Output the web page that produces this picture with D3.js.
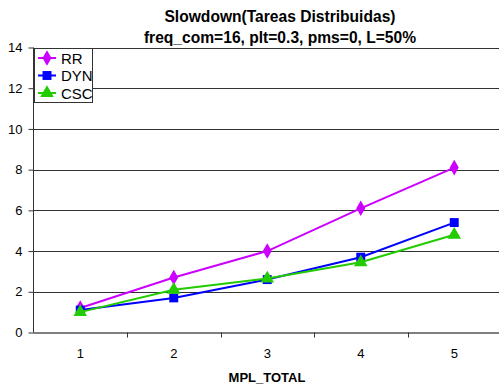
<!DOCTYPE html>
<html>
<head>
<meta charset="utf-8">
<script src="https://cdn.jsdelivr.net/npm/d3@7"></script>
<style>
  html, body { margin: 0; padding: 0; background: #fff; }
  svg { display: block; font-family: Arial, "Liberation Sans", sans-serif; }
</style>
</head>
<body>
<svg id="chart" width="499" height="388"></svg>
<script>
// Slowdown per total MPL for three scheduling policies
const categories = [1, 2, 3, 4, 5];
const rrValues  = [1.2, 2.7, 4.0, 6.1, 8.1];
const dynValues = [1.1, 1.7, 2.6, 3.7, 5.4];
const cscValues = [1.0, 2.1, 2.65, 3.45, 4.8];
const yTicks = [0, 2, 4, 6, 8, 10, 12, 14];
const seriesNames = ["RR", "DYN", "CSC"];
const seriesColors = ["#cc00ff", "#0000ff", "#22cc00"];
const seriesShapes = [d3.symbolDiamond, d3.symbolSquare, d3.symbolTriangle];
const titleLines = ["Slowdown(Tareas Distribuidas)", "freq_com=16, plt=0.3, pms=0, L=50%"];
const xTitle = "MPL_TOTAL";

const series = seriesNames.map((name, i) => ({
  name,
  color: seriesColors[i],
  shape: seriesShapes[i],
  values: [rrValues, dynValues, cscValues][i]
}));

const svg = d3.select("#chart");
const plot = { left: 33.5, right: 501, top: 47.5, bottom: 332.5 };

const x = d3.scaleBand().domain(categories).range([plot.left, plot.right]);
const y = d3.scaleLinear().domain([0, 14]).range([plot.bottom, plot.top]);
const cx = d => x(d) + x.bandwidth() / 2;

// Horizontal gridlines
svg.append("g")
  .selectAll("line")
  .data(yTicks.filter(t => t > 0))
  .join("line")
  .attr("x1", plot.left).attr("x2", plot.right)
  .attr("y1", d => Math.round(y(d)) + 0.5).attr("y2", d => Math.round(y(d)) + 0.5)
  .attr("stroke", "#333").attr("stroke-width", 1);

// Y axis
const yAxis = svg.append("g")
  .attr("transform", `translate(${plot.left},0)`)
  .call(d3.axisLeft(y).tickValues(yTicks).tickSize(5).tickPadding(6).tickFormat(d3.format("d")));
yAxis.selectAll("text").attr("font-size", 13).attr("fill", "#000")
  .attr("font-family", "Arial, 'Liberation Sans', sans-serif");
yAxis.selectAll("line, path").attr("stroke", "#333");
yAxis.select(".domain").attr("d", `M0,${plot.bottom}V${plot.top}`);

// X axis with ticks at category boundaries
const xg = svg.append("g").attr("transform", `translate(0,${plot.bottom})`);
xg.append("line").attr("x1", plot.left).attr("x2", plot.right)
  .attr("y1", 0.5).attr("y2", 0.5).attr("stroke", "#000");
xg.selectAll("line.tick")
  .data(categories.slice(1))
  .join("line").attr("class", "tick")
  .attr("x1", d => Math.round(x(d)) + 0.5).attr("x2", d => Math.round(x(d)) + 0.5)
  .attr("y1", 0).attr("y2", 5).attr("stroke", "#333");
xg.selectAll("text")
  .data(categories)
  .join("text")
  .attr("x", d => cx(d)).attr("y", 25)
  .attr("text-anchor", "middle").attr("font-size", 13).text(d => d);

// Axis title
svg.append("text").attr("x", 267).attr("y", 382)
  .attr("text-anchor", "middle").attr("font-size", 13).attr("font-weight", "bold")
  .text(xTitle);

// Chart title
svg.append("g").selectAll("text")
  .data(titleLines)
  .join("text")
  .attr("x", 280).attr("y", (d, i) => 22 + i * 21)
  .attr("text-anchor", "middle").attr("font-size", 15.6).attr("font-weight", "bold")
  .text(d => d);

// Lines and markers
const line = d3.line().x((d, i) => cx(categories[i])).y(d => y(d));
const sizes = { RR: 70, DYN: 80, CSC: 80 };
series.forEach(s => {
  svg.append("path").datum(s.values)
    .attr("d", line).attr("fill", "none")
    .attr("stroke", s.color).attr("stroke-width", 2);
  svg.append("g").selectAll("path")
    .data(s.values)
    .join("path")
    .attr("transform", (d, i) => `translate(${cx(categories[i])},${y(d)})`)
    .attr("d", d3.symbol().type(s.shape).size(sizes[s.name]))
    .attr("fill", s.color);
});

// Legend
const lg = svg.append("g").attr("transform", "translate(34,48)");
lg.append("rect").attr("x", 0.5).attr("y", 0.5).attr("width", 58).attr("height", 54)
  .attr("fill", "#fff").attr("stroke", "#333");
series.forEach((s, i) => {
  const yy = 10 + i * 17.5;
  lg.append("line").attr("x1", 4).attr("x2", 22).attr("y1", yy).attr("y2", yy)
    .attr("stroke", s.color).attr("stroke-width", 2);
  lg.append("path").attr("transform", `translate(13,${yy})`)
    .attr("d", d3.symbol().type(s.shape).size(sizes[s.name])).attr("fill", s.color);
  lg.append("text").attr("x", 27).attr("y", yy + 5.5).attr("font-size", 15).text(s.name);
});
</script>
</body>
</html>
